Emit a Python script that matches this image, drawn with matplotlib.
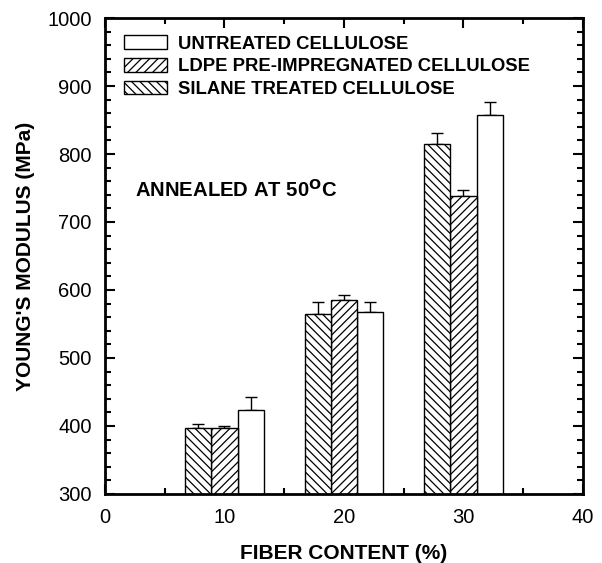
import matplotlib
matplotlib.use("Agg")
import matplotlib.pyplot as plt
import numpy as np
from matplotlib.ticker import MultipleLocator

plt.rcParams['font.family'] = ['Liberation Sans', 'DejaVu Sans']
plt.rcParams['hatch.linewidth'] = 0.9

# data
fiber = [10, 20, 30]
untreated = [424, 568, 858]
untreated_err = [18, 15, 19]
ldpe = [397, 586, 738]
ldpe_err = [3, 7, 9]
silane = [397, 565, 815]
silane_err = [6, 17, 16]

fig = plt.figure(figsize=(6.02, 5.63), dpi=100)
ax = fig.add_axes([0.1744, 0.1226, 0.7940, 0.8454])

w = 2.2
x = np.array(fiber, dtype=float)
ax.bar(x + w, untreated, w, color='white', edgecolor='black', lw=1.0,
       label='UNTREATED CELLULOSE', zorder=2)
ax.bar(x, ldpe, w, color='white', edgecolor='black', lw=1.0, hatch='////',
       label='LDPE PRE-IMPREGNATED CELLULOSE', zorder=2)
ax.bar(x - w, silane, w, color='white', edgecolor='black', lw=1.0, hatch='\\\\\\\\',
       label='SILANE TREATED CELLULOSE', zorder=2)

# one-sided error bars
for xs, ys, es in [(x + w, untreated, untreated_err), (x, ldpe, ldpe_err), (x - w, silane, silane_err)]:
    ax.errorbar(xs, ys, yerr=[np.zeros(len(es)), es], fmt='none', ecolor='black',
                elinewidth=1.0, capsize=4, capthick=1.0, zorder=1)

ax.set_xlim(0, 40)
ax.set_ylim(300, 1000)
ax.xaxis.set_major_locator(MultipleLocator(10))
ax.xaxis.set_minor_locator(MultipleLocator(5))
ax.yaxis.set_major_locator(MultipleLocator(100))
ax.yaxis.set_minor_locator(MultipleLocator(20))
ax.tick_params(which='both', direction='in', top=True, right=True, width=1.5)
ax.tick_params(which='major', length=7, labelsize=14.5)
ax.tick_params(axis='x', which='major', pad=10)
ax.tick_params(axis='y', which='major', pad=9.5)
ax.tick_params(which='minor', length=4)
for s in ax.spines.values():
    s.set_linewidth(2)

ax.set_xlabel('FIBER CONTENT (%)', fontsize=15, fontweight='bold', labelpad=12)
ax.set_ylabel("YOUNG'S MODULUS (MPa)", fontsize=15, fontweight='bold', labelpad=9)

ax.text(0.063, 0.639, r'ANNEALED AT 50$^{\mathbf{O}}$C', transform=ax.transAxes,
        fontsize=14.6, fontweight='bold', va='center')

ax.legend(loc='upper left', bbox_to_anchor=(0.025, 0.979), frameon=False,
          prop={'size': 13.3, 'weight': 'bold'}, handlelength=2.3,
          handleheight=0.75, handletextpad=0.6, labelspacing=0.3,
          borderaxespad=0)

fig.savefig('out.png', dpi=100)
